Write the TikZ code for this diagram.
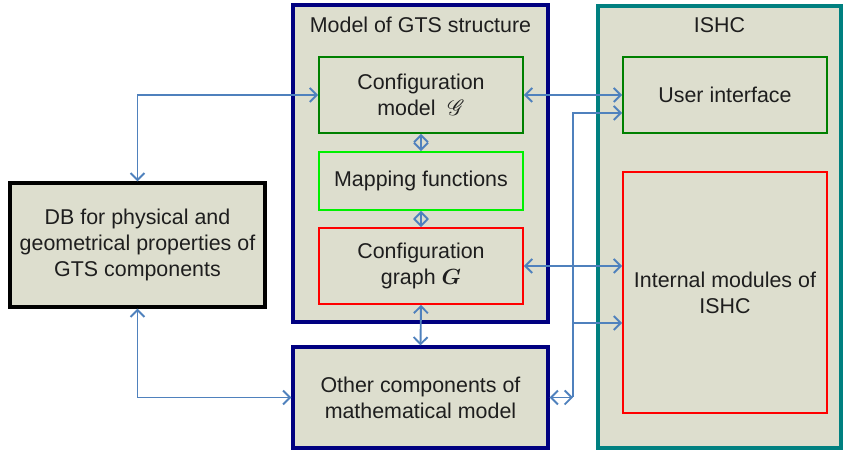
\documentclass[tikz,border=0pt]{standalone}
\usepackage{fontspec}
\setmainfont{Liberation Sans}
\usepackage{mathrsfs}
\usepackage{bm}
\usetikzlibrary{arrows.meta}
\definecolor{boxfill}{RGB}{221,222,206}
\definecolor{textgray}{RGB}{30,30,30}
\definecolor{linkblue}{RGB}{79,129,189}
\definecolor{navyline}{RGB}{0,0,128}
\definecolor{tealline}{RGB}{0,128,128}
\definecolor{darkgreen}{RGB}{0,128,0}
\definecolor{lightgreen}{RGB}{0,240,0}
\tikzset{
  block/.style={shape=rectangle,fill=boxfill,align=center,text=textgray,inner sep=0pt,
    font=\fontsize{10.7pt}{13pt}\selectfont},
  outerbox/.style={block,line width=1.6pt},
  innerbox/.style={block,line width=0.9pt,minimum width=102pt},
  boxtitle/.style={text=textgray,font=\fontsize{10.7pt}{13pt}\selectfont,inner sep=0pt},
  link/.style={draw=linkblue,line width=0.95pt},
}
\begin{document}
\begin{tikzpicture}[x=0.5pt,y=-0.5pt,>={Straight Barb[length=3.5pt,width=7pt]}]
  \useasboundingbox (0,0) rectangle (843,453);

  % containers
  \node[outerbox,draw=navyline,minimum width=127.5pt,minimum height=158.5pt] (gts) at (420.5,163.5) {};
  \node[boxtitle] (gtstitle) at (420.5,25) {Model of GTS structure};
  \node[outerbox,draw=tealline,minimum width=121.5pt,minimum height=221pt] (ishc) at (719.5,227) {};
  \node[boxtitle] (ishctitle) at (719.5,25) {ISHC};

  % blocks
  \node[outerbox,draw=black,minimum width=127.5pt,minimum height=62pt] (db) at (137.5,245)
    {DB for physical and\\geometrical properties of\\GTS components};
  \node[innerbox,draw=darkgreen,minimum height=38pt] (cfm) at (421,95) {Configuration\\model~~$\mathscr{G}$};
  \node[innerbox,draw=lightgreen,minimum height=29pt] (map) at (421,181) {Mapping functions};
  \node[innerbox,draw=red,minimum height=38pt] (cfg) at (421,266) {Configuration\\graph $\bm{G}$};
  \node[outerbox,draw=navyline,minimum width=127.5pt,minimum height=50.5pt] (oth) at (420.5,397.5)
    {Other components of\\mathematical model};
  \node[innerbox,draw=darkgreen,minimum height=38pt] (ui) at (725,95) {User interface};
  \node[innerbox,draw=red,minimum height=120.5pt] (imod) at (725,292.5) {Internal modules of\\ISHC};

  % connectors
  \path[link,<->] (db.north) |- (cfm.west);
  \path[link,<->] (db.south) |- (oth.west);
  \path[link,<->] (cfm.east) -- (ui.west);
  \path[link,<->] (cfm.south) -- (map.north);
  \path[link,<->] (map.south) -- (cfg.north);
  \path[link,<->] (cfg.south) -- (oth.north);
  \path[link,<->] (cfg.east) -- (cfg.east -| imod.west);

  % bus to ISHC
  \coordinate (bustop) at (573,113);
  \coordinate (busmid) at (573,323);
  \coordinate (busend) at (573,397.5);
  \path[link,<->] (oth.east) -- (busend);
  \path[link,->] (busend) -- (bustop) -- (bustop -| ui.west);
  \path[link,->] (busmid) -- (busmid -| imod.west);
\end{tikzpicture}
\end{document}
